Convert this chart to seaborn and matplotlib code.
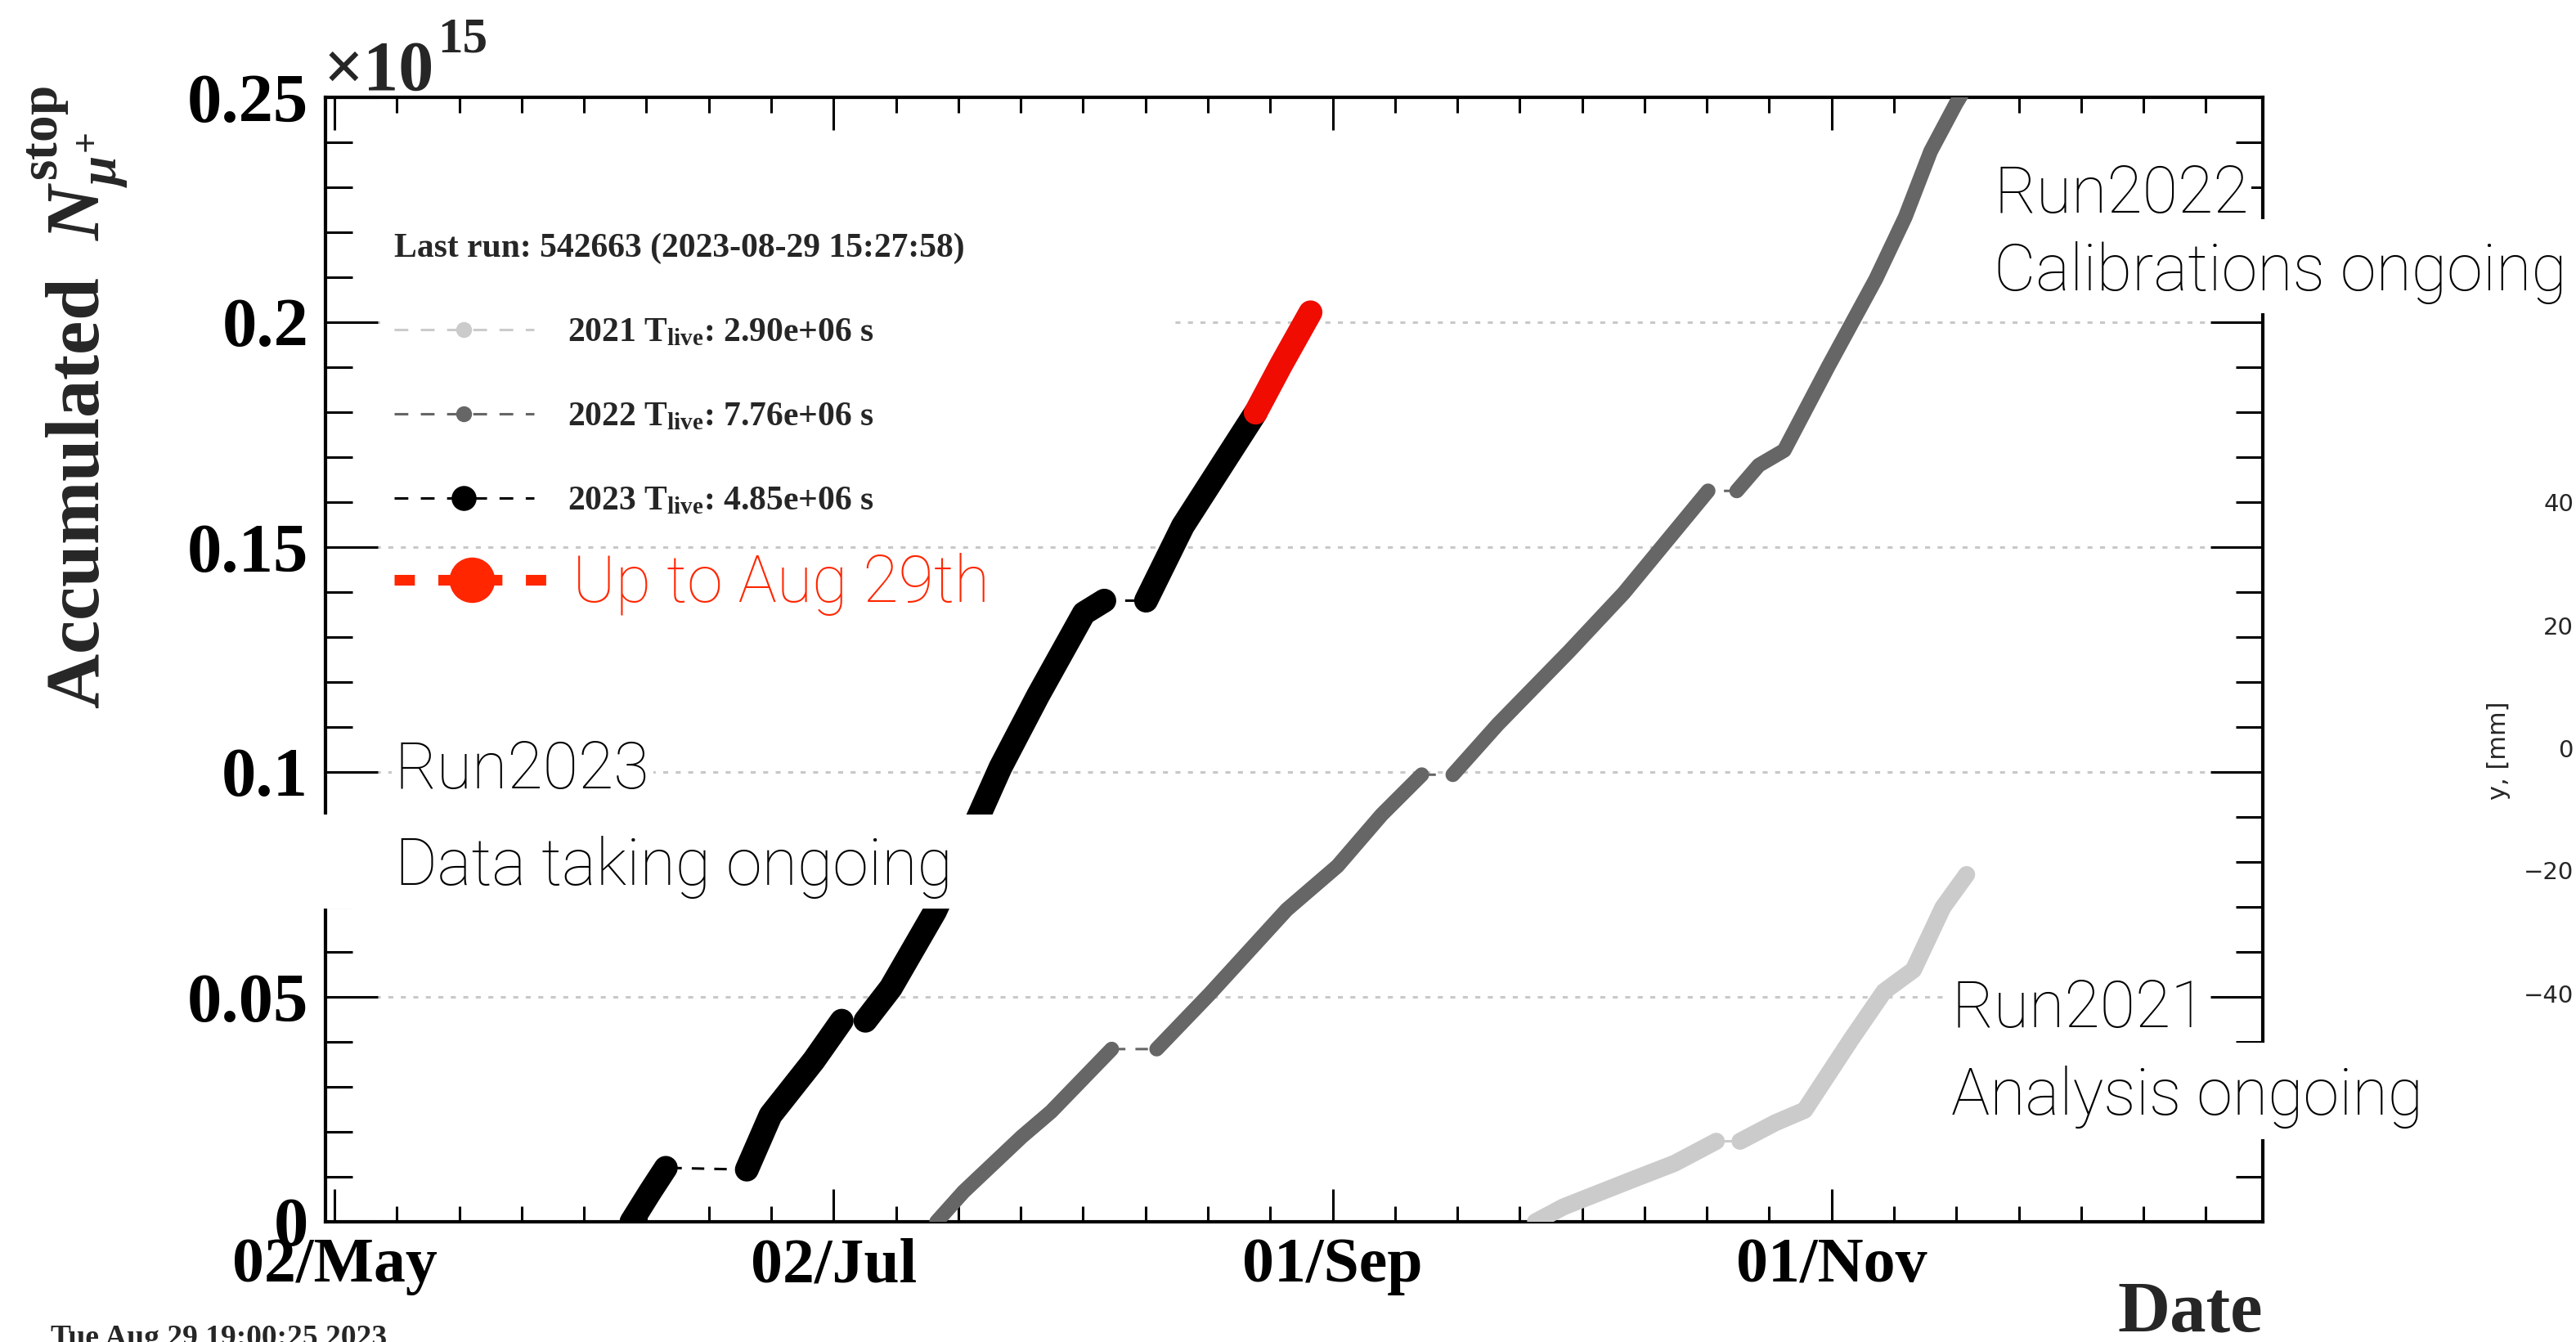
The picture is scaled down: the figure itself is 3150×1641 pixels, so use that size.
import pandas as pd
import matplotlib.pyplot as plt
import numpy as np
import seaborn as sns
from matplotlib.lines import Line2D
from matplotlib.patches import Rectangle
from matplotlib.ticker import FixedLocator, MultipleLocator

W, H = 3150, 1641

# x is counted in days from 02/May
start = pd.Timestamp('2023-05-02')
tick_dates = ['2023-05-02', '2023-07-02', '2023-09-01', '2023-11-01']
y_ticks = [0, 0.05, 0.1, 0.15, 0.2, 0.25]
y_labels = ['0', '0.05', '0.1', '0.15', '0.2', '0.25']

# Run2023, one list per data-taking block (values in units of 1e15)
days_2023 = [[36.3, 38.6, 40.5],
             [50.4, 53.3, 58.6, 62.0],
             [64.9, 68.0, 73.4, 78.7, 81.4, 86.0, 91.6, 94.1],
             [99.2, 103.7, 112.6]]
n_2023 = [[0.0, 0.0067, 0.0120],
          [0.0116, 0.0237, 0.0359, 0.0447],
          [0.0447, 0.052, 0.069, 0.090, 0.101, 0.117, 0.1353, 0.1381],
          [0.1381, 0.1547, 0.1799]]

# last week of 2023 (red)
days_red = [112.6, 115.7, 119.3]
n_red = [0.1799, 0.1905, 0.2022]

# Run2022
days_2022 = [[73.6, 76.9, 84.0, 87.6, 95.0],
             [100.5, 107.0, 116.4, 122.6, 128.0, 132.9],
             [136.7, 142.2, 150.9, 157.6, 167.9],
             [171.4, 174.1, 177.2, 182.6, 188.4, 192.0, 195.1, 198.2, 199.0]]
n_2022 = [[0.0, 0.0067, 0.0189, 0.0245, 0.0384],
          [0.0384, 0.0507, 0.0694, 0.0791, 0.0905, 0.0994],
          [0.0994, 0.1106, 0.1268, 0.1398, 0.1625],
          [0.1625, 0.1682, 0.1715, 0.1902, 0.2096, 0.2234, 0.238, 0.2486, 0.2510]]

# Run2021
days_2021 = [[146.8, 150.2, 158.7, 163.8, 168.9],
             [171.8, 176.1, 179.7, 185.4, 189.4, 193.0, 196.6, 199.5]]
n_2021 = [[0.0, 0.0033, 0.0094, 0.013, 0.0179],
          [0.0179, 0.022, 0.0248, 0.0406, 0.0512, 0.056, 0.0699, 0.0772]]

leg_title = 'Last run: 542663 (2023-08-29 15:27:58)'
leg_labels = [r'2021 T$_{\mathrm{live}}$: 2.90e+06 s',
              r'2022 T$_{\mathrm{live}}$: 7.76e+06 s',
              r'2023 T$_{\mathrm{live}}$: 4.85e+06 s']
other_ticks = ['40', '20', '0', '\u221220', '\u221240']

c21, c22, c23 = '#cbcbcb', '#666666', 'black'
red_line, red_txt = '#f00c00', '#ff2600'


def frame(days, vals):
    rows = []
    for i, (d, v) in enumerate(zip(days, vals)):
        rows += [{'seg': i, 'day': x, 'n': y} for x, y in zip(d, v)]
    return pd.DataFrame(rows)


sns.set_style('ticks')
plt.rcParams['font.family'] = ['Liberation Serif', 'DejaVu Serif']
plt.rcParams['font.weight'] = 'bold'
plt.rcParams['axes.labelweight'] = 'bold'
plt.rcParams['mathtext.fontset'] = 'custom'
plt.rcParams['mathtext.rm'] = 'Liberation Serif:bold'
plt.rcParams['mathtext.it'] = 'Liberation Serif:italic:bold'
plt.rcParams['mathtext.bf'] = 'Liberation Serif:bold'
sans = ['Roboto', 'DejaVu Sans']

fig = plt.figure(figsize=(W / 100, H / 100), dpi=100)
ax = fig.add_axes([398 / W, 1 - 1494 / H, (2767 - 398) / W, (1494 - 119) / H])

for v in y_ticks[1:-1]:
    ax.axhline(v, color='#c8c8c8', lw=2.2, ls=(0, (2, 3)), zorder=0.5)

for days, vals, col, lw in [(days_2021, n_2021, c21, 15),
                            (days_2022, n_2022, c22, 13),
                            (days_2023, n_2023, c23, 21)]:
    df = frame(days, vals)
    sns.lineplot(data=df, x='day', y='n', estimator=None, sort=False, color=col,
                 lw=2.2, ls=(0, (5, 4)), ax=ax, zorder=3, legend=False)
    sns.lineplot(data=df, x='day', y='n', units='seg', estimator=None, sort=False,
                 color=col, lw=lw, solid_capstyle='round', solid_joinstyle='round',
                 ax=ax, zorder=3.2, legend=False)

red = pd.DataFrame({'day': days_red, 'n': n_red})
sns.lineplot(data=red, x='day', y='n', estimator=None, sort=False, color=red_line,
             lw=21, solid_capstyle='round', ax=ax, zorder=3.4, legend=False)

ax.set_xlim(-1.1, 235.7)
ax.set_ylim(0, 0.25)
majors = (pd.to_datetime(tick_dates) - start).days.values
ax.xaxis.set_major_locator(FixedLocator(majors))
ax.set_xticklabels(pd.to_datetime(tick_dates).strftime('%d/%b'))
ax.xaxis.set_minor_locator(MultipleLocator(61 / 8))
ax.yaxis.set_major_locator(FixedLocator(y_ticks))
ax.set_yticklabels(y_labels)
ax.yaxis.set_minor_locator(MultipleLocator(0.01))

ax.tick_params(which='both', direction='in', top=True, right=True, width=2.2, colors='black')
ax.tick_params(axis='x', which='major', length=29, pad=14, labelsize=56)
ax.tick_params(axis='x', which='minor', length=14)
ax.tick_params(axis='y', which='major', length=46, pad=15, labelsize=61)
ax.tick_params(axis='y', which='minor', length=24)
for s in ax.spines.values():
    s.set_linewidth(3)
    s.set_color('black')

ax.set_ylabel(r'Accumulated  $N_{\mu^{+}}^{\mathrm{stop}}$', fontsize=67, loc='top')
ax.yaxis.set_label_coords(-0.101, 1.01)
ax.set_xlabel('Date', fontsize=64, loc='right')
ax.xaxis.set_label_coords(1.0, -0.052)

handles = [Line2D([], [], color=c, lw=2.2, ls=(0, (5.5, 5)), marker='o', ms=m, markeredgewidth=0)
           for c, m in [(c21, 14), (c22, 14), (c23, 22)]]
legA = ax.legend(handles, leg_labels, title=leg_title, loc='upper left',
                 bbox_to_anchor=(465 / W, 1 - 648 / H, (1431 - 465) / W, (648 - 268) / H),
                 bbox_transform=fig.transFigure, mode='expand', borderaxespad=0,
                 borderpad=0.4, fontsize=30, title_fontproperties={'weight': 'bold', 'size': 30},
                 handlelength=4.1, handletextpad=1.0, labelspacing=1.56, alignment='left',
                 frameon=True, fancybox=False, edgecolor='none', facecolor='white', framealpha=1)
legA.set_zorder(1)

red_handle = Line2D([], [], color=red_txt, lw=9.4, ls=(0, (1.9, 2.2)), marker='o', ms=40,
                    markeredgewidth=0)
legB = ax.legend([red_handle], ['Up to Aug 29th'], loc='center left',
                 bbox_to_anchor=(466 / W, 1 - 715 / H), bbox_transform=fig.transFigure,
                 frameon=False, borderpad=0.2, borderaxespad=0, handlelength=2.4,
                 handletextpad=0.36, prop={'family': sans, 'weight': 'light', 'size': 57})
for t in legB.get_texts():
    t.set_color(red_txt)
ax.add_artist(legA)

# ROOT style exponent, with a large raised power
fig.text(396 / W, 1 - 110 / H, '\u00d710', size=62, ha='left', va='baseline')
fig.text(535 / W, 1 - 64 / H, '15', size=44, ha='left', va='baseline')
fig.text(62 / W, 1 - 1619 / H, 'Tue Aug 29 19:00:25 2023', size=27, ha='left', va='top')

# white boxes behind the annotations
for x0, x1, y0, y1 in [(390, 1225, 996, 1111), (2430, 3150, 268, 383), (2378, 2990, 1275, 1393)]:
    fig.add_artist(Rectangle((x0 / W, 1 - y1 / H), (x1 - x0) / W, (y1 - y0) / H,
                             transform=fig.transFigure, facecolor='white', edgecolor='none',
                             zorder=2.8))

note = {'family': sans, 'weight': 'light', 'size': 57, 'color': 'black', 'ha': 'left',
        'va': 'baseline'}
box = {'facecolor': 'white', 'edgecolor': 'none', 'pad': 3}
fig.text(483 / W, 1 - 964 / H, 'Run2023', bbox=box, **note)
fig.text(483 / W, 1 - 1082 / H, 'Data taking ongoing', **note)
fig.text(2438 / W, 1 - 260 / H, 'Run2022', bbox=box, **note)
fig.text(2438 / W, 1 - 355 / H, 'Calibrations ongoing', **note)
fig.text(2386 / W, 1 - 1256 / H, 'Run2021', bbox=box, **note)
fig.text(2386 / W, 1 - 1363 / H, 'Analysis ongoing', **note)

# edge of a neighbouring plot
fig.text(3055 / W, 1 - 918 / H, 'y, [mm]', rotation=90, ha='center', va='center',
         family='DejaVu Sans', weight='normal', size=22)
for lab, yp in zip(other_ticks, [617, 768, 918, 1067, 1218]):
    fig.text(3147 / W, 1 - yp / H, lab, ha='right', va='center', family='DejaVu Sans',
             weight='normal', size=21)

fig.savefig('out.png', dpi=100)
